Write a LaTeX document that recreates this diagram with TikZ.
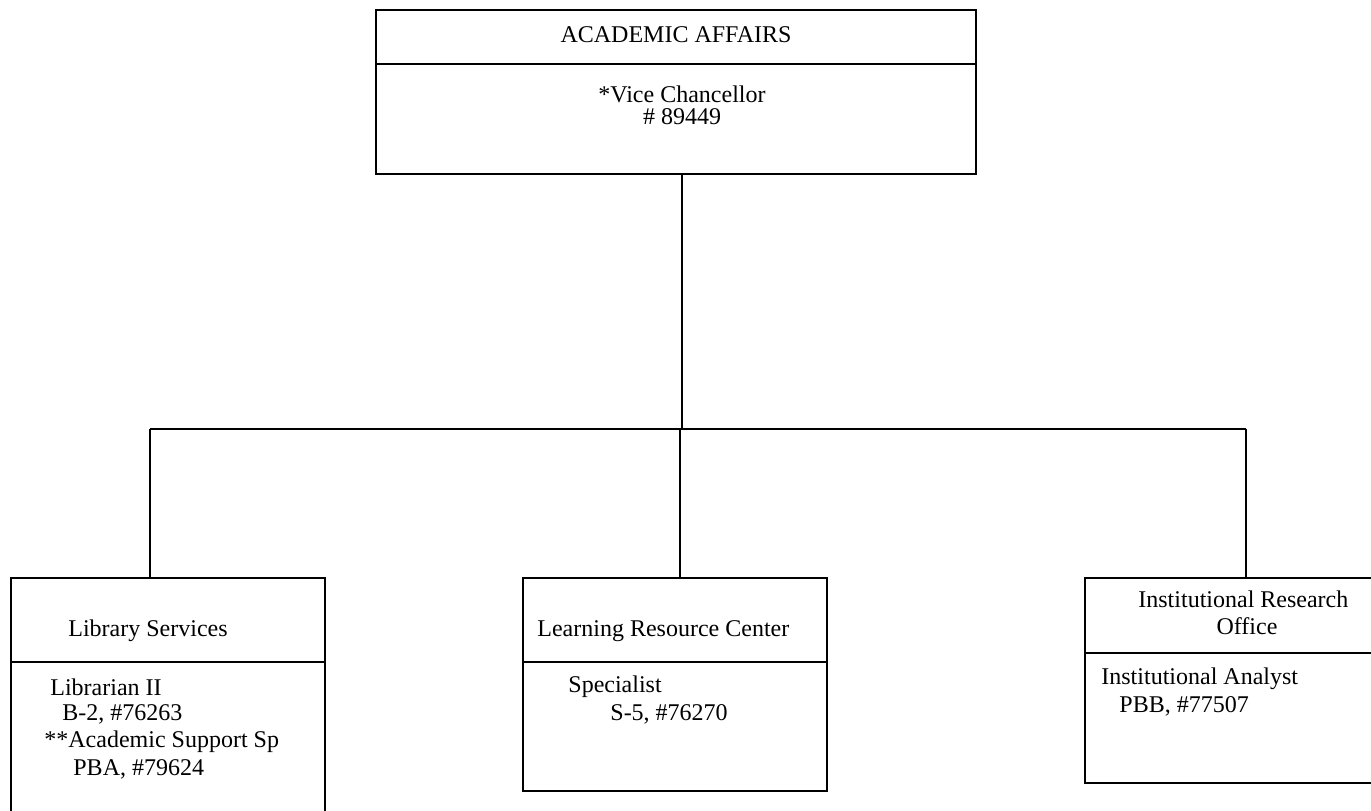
\documentclass[tikz,border=0pt]{standalone}
\usepackage{fontspec}
\setmainfont{Liberation Serif}
\begin{document}
\begin{tikzpicture}[x=0.5pt,y=-0.5pt,
  unit/.style={draw,line width=1pt,rectangle,anchor=north west,inner sep=0pt},
  rule/.style={line width=1pt},
  link/.style={line width=1pt},
  lbl/.style={anchor=base west,inner sep=0pt,font=\fontsize{12pt}{14pt}\selectfont},
  clbl/.style={anchor=base,inner sep=0pt,font=\fontsize{12pt}{14pt}\selectfont}]
\clip (0,0) rectangle (1371,810);
\fill[white] (0,0) rectangle (1371,810);

% top unit
\node[unit,minimum width=300pt,minimum height=82pt] (aa) at (375,9) {};
\draw[rule] (375,64) -- (975,64);
\node[clbl] (aat) at (676,42) {ACADEMIC AFFAIRS};
\node[clbl] (vc) at (682,102) {*Vice Chancellor};
\node[clbl] (vcn) at (682,124) {\# 89449};

% subordinate units
\node[unit,minimum width=157pt,minimum height=125pt] (lib) at (10,577) {};
\draw[rule] (10,662) -- (324,662);
\node[lbl] (libt) at (68,636) {Library Services};
\node[lbl] (l1) at (50,695) {Librarian II};
\node[lbl] (l2) at (62,720) {B-2, \#76263};
\node[lbl] (l3) at (44,747) {**Academic Support Sp};
\node[lbl] (l4) at (73,775) {PBA, \#79624};

\node[unit,minimum width=152pt,minimum height=106.5pt] (lrc) at (522,577) {};
\draw[rule] (522,662) -- (826,662);
\node[lbl] (lrct) at (537,636) {Learning Resource Center};
\node[lbl] (m1) at (568,692) {Specialist};
\node[lbl] (m2) at (610,720) {S-5, \#76270};

\node[unit,minimum width=146pt,minimum height=102.5pt] (iro) at (1084,577) {};
\draw[rule] (1084,653) -- (1376,653);
\node[lbl] (irot) at (1138,607) {Institutional Research};
\node[clbl] (irot2) at (1247,634) {Office};
\node[lbl] (r1) at (1101,684) {Institutional Analyst};
\node[lbl] (r2) at (1119,712) {PBB, \#77507};

% connectors
\coordinate (hub) at (682,429);
\coordinate (hl) at (150,429);
\coordinate (hr) at (1246,429);
\draw[link] (aa.south -| hub) -- (hub);
\draw[link] (hl) -- (hr);
\draw[link] (hl) -- (hl |- lib.north);
\draw[link] (680,429) -- (680,577);
\draw[link] (hr) -- (hr |- iro.north);
\end{tikzpicture}
\end{document}
